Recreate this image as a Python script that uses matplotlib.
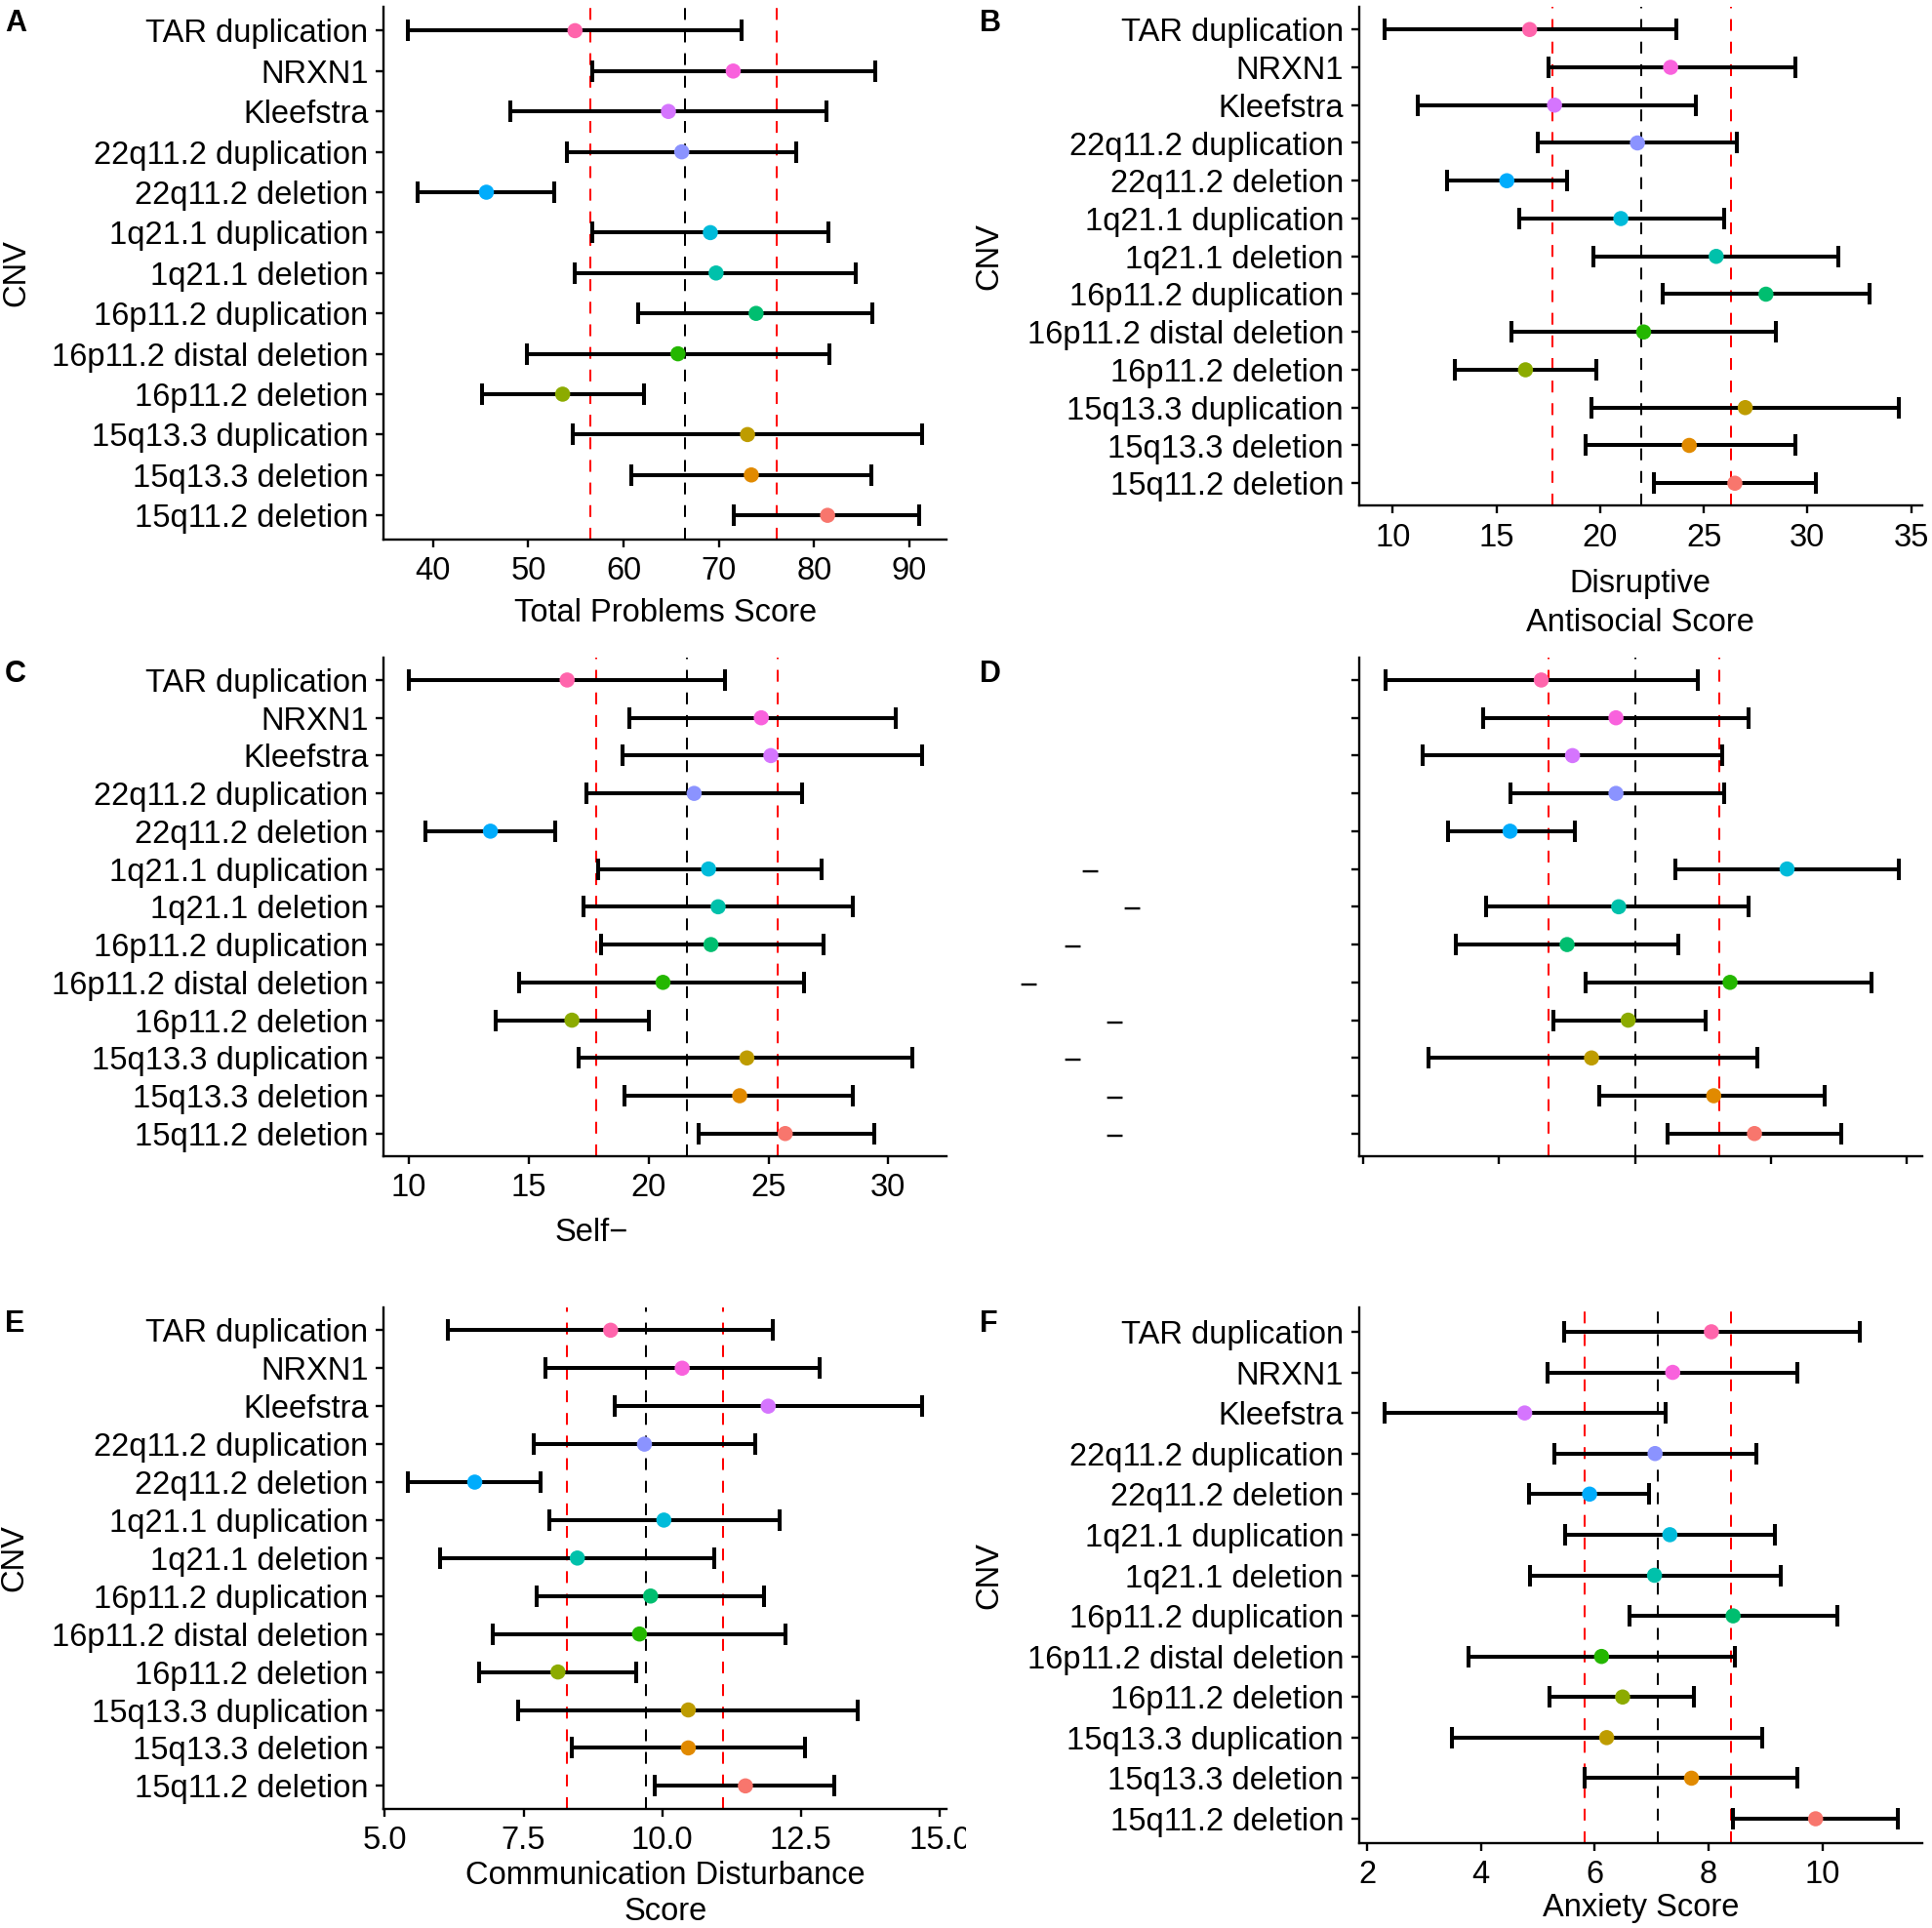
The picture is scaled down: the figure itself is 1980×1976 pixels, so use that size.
import matplotlib
matplotlib.use("Agg")
import matplotlib.pyplot as plt
import matplotlib.transforms as mtransforms
from matplotlib.transforms import Bbox, TransformedBbox
import numpy as np

plt.rcParams['font.family'] = ['Liberation Sans', 'DejaVu Sans']

# ---------------- data ----------------
cnv = ["TAR duplication", "NRXN1", "Kleefstra", "22q11.2 duplication",
       "22q11.2 deletion", "1q21.1 duplication", "1q21.1 deletion",
       "16p11.2 duplication", "16p11.2 distal deletion", "16p11.2 deletion",
       "15q13.3 duplication", "15q13.3 deletion", "15q11.2 deletion"]
cnv_colors = ["#FF65AC", "#F962DD", "#D575FE", "#8B93FF", "#00ACFC", "#00BBDA",
              "#00C1AB", "#00BE70", "#24B700", "#8CAB00", "#BE9C00", "#E18A00",
              "#F8766D"]

# A: Total Problems Score
a_mean = [54.9, 71.5, 64.7, 66.1, 45.6, 69.1, 69.7, 73.9, 65.7, 53.6, 73.0, 73.4, 81.4]
a_low = [37.4, 56.7, 48.1, 54.0, 38.4, 56.7, 54.9, 61.5, 49.9, 45.1, 54.7, 60.8, 71.6]
a_high = [72.4, 86.4, 81.3, 78.1, 52.7, 81.5, 84.4, 86.1, 81.6, 62.1, 91.3, 86.0, 91.0]
a_ref = [66.4, 56.5, 76.1]          # population mean, lower, upper
a_ticks = [40, 50, 60, 70, 80, 90]

# B: Disruptive Antisocial Score
b_mean = [16.6, 23.4, 17.8, 21.8, 15.5, 21.0, 25.6, 28.0, 22.1, 16.4, 27.0, 24.3, 26.5]
b_low = [9.6, 17.5, 11.2, 17.0, 12.6, 16.1, 19.7, 23.0, 15.7, 13.0, 19.6, 19.3, 22.6]
b_high = [23.7, 29.4, 24.6, 26.6, 18.4, 26.0, 31.5, 33.0, 28.5, 19.8, 34.4, 29.4, 30.4]
b_ref = [22.0, 17.7, 26.3]
b_ticks = [10, 15, 20, 25, 30, 35]

# C: Self- score
c_mean = [16.6, 24.7, 25.1, 21.9, 13.4, 22.5, 22.9, 22.6, 20.6, 16.8, 24.1, 23.8, 25.7]
c_low = [10.0, 19.2, 18.9, 17.4, 10.7, 17.9, 17.3, 18.0, 14.6, 13.6, 17.1, 19.0, 22.1]
c_high = [23.2, 30.3, 31.4, 26.4, 16.1, 27.2, 28.5, 27.3, 26.5, 20.0, 31.0, 28.5, 29.4]
c_ref = [21.6, 17.8, 25.4]
c_ticks = [10, 15, 20, 25, 30]

# D: unlabelled panel
d_mean = [16.55, 19.3, 17.7, 19.3, 15.4, 25.6, 19.4, 17.5, 23.5, 19.75, 18.4, 22.9, 24.4]
d_low = [10.8, 14.4, 12.2, 15.4, 13.1, 21.5, 14.5, 13.4, 18.2, 17.0, 12.4, 18.7, 21.2]
d_high = [22.3, 24.2, 23.2, 23.3, 17.8, 29.7, 24.2, 21.6, 28.7, 22.6, 24.5, 27.0, 27.6]
d_ref = [20.0, 16.8, 23.1]
d_ticks = [10, 15, 20, 25, 30]

# E: Communication Disturbance Score
e_mean = [9.07, 10.36, 11.91, 9.68, 6.62, 10.03, 8.47, 9.79, 9.59, 8.12, 10.47, 10.47, 11.5]
e_low = [6.14, 7.89, 9.14, 7.68, 5.42, 7.97, 5.99, 7.74, 6.94, 6.70, 7.41, 8.37, 9.87]
e_high = [11.99, 12.83, 14.69, 11.68, 7.81, 12.11, 10.93, 11.84, 12.23, 9.53, 13.52, 12.57, 13.11]
e_ref = [9.7, 8.29, 11.1]
e_ticks = [5.0, 7.5, 10.0, 12.5, 15.0]

# F: Anxiety Score
f_mean = [8.05, 7.37, 4.77, 7.06, 5.91, 7.32, 7.05, 8.43, 6.12, 6.49, 6.21, 7.70, 9.88]
f_low = [5.46, 5.17, 2.31, 5.30, 4.85, 5.48, 4.87, 6.61, 3.79, 5.21, 3.50, 5.83, 8.43]
f_high = [10.65, 9.56, 7.24, 8.84, 6.96, 9.16, 9.26, 10.27, 8.47, 7.75, 8.94, 9.56, 11.33]
f_ref = [7.11, 5.82, 8.40]
f_ticks = [2, 4, 6, 8, 10]

# ---------------- figure ----------------
W, H = 1980, 1976
fig = plt.figure(figsize=(W / 100, H / 100), dpi=100)
FS = 23.5


def add_ax(l, t, r, b):
    return fig.add_axes([l / W, 1 - b / H, (r - l) / W, (b - t) / H])


def panel(ax, mean, low, high, ref, xlim, ticks, ticklabels=None,
          show_x=True, show_y=True):
    n = len(cnv)
    y = np.arange(n)[::-1]
    dash = (0, (6, 5.5))
    ax.axvline(ref[1], color='#FF0000', lw=1.45, ls=dash, zorder=1)
    ax.axvline(ref[2], color='#FF0000', lw=1.45, ls=dash, zorder=1)
    ax.axvline(ref[0], color='black', lw=1.45, ls=dash, zorder=1)
    mean = np.asarray(mean)
    err = [mean - np.asarray(low), np.asarray(high) - mean]
    ax.errorbar(mean, y, xerr=err, fmt='none', ecolor='black', elinewidth=2.9,
                capsize=7.8, capthick=2.9, zorder=2)
    ax.scatter(mean, y, c=cnv_colors, s=125, zorder=3, linewidths=0)
    ax.set_xlim(*xlim)
    ax.set_ylim(-0.6, n - 0.4)
    ax.set_yticks(y)
    ax.set_yticklabels(cnv if show_y else [])
    ax.set_xticks(ticks)
    if show_x:
        ax.set_xticklabels(ticklabels if ticklabels else [f"{t:g}" for t in ticks])
    else:
        ax.set_xticklabels([])
    for s in ['top', 'right']:
        ax.spines[s].set_visible(False)
    for s in ['left', 'bottom']:
        ax.spines[s].set_linewidth(1.7)
    ax.tick_params(axis='both', length=5.8, width=1.7, color='black',
                   labelcolor='black', labelsize=FS)
    ax.tick_params(axis='y', pad=5.5)
    ax.tick_params(axis='x', pad=6.5)


axA = add_ax(393.3, 6.6, 970.3, 553)
panel(axA, a_mean, a_low, a_high, a_ref, (34.83, 93.91), a_ticks)
axB = add_ax(1392.8, 7, 1969.8, 518.5)
panel(axB, b_mean, b_low, b_high, b_ref, (8.37, 35.53), b_ticks)
axC = add_ax(393.3, 673.7, 970.3, 1185)
panel(axC, c_mean, c_low, c_high, c_ref, (8.95, 32.44), c_ticks)
axD = add_ax(1392.8, 673.7, 1969.8, 1185)
panel(axD, d_mean, d_low, d_high, d_ref, (9.84, 30.57), d_ticks,
      show_x=False, show_y=False)
axE = add_ax(393.3, 1340, 970.3, 1853.7)
panel(axE, e_mean, e_low, e_high, e_ref, (4.98, 15.13), e_ticks,
      ticklabels=[f"{t:.1f}" for t in e_ticks])
axF = add_ax(1392.8, 1340, 1969.8, 1889)
panel(axF, f_mean, f_low, f_high, f_ref, (1.86, 11.75), f_ticks)

# clip panel E's tick labels at its cell border
clip = TransformedBbox(Bbox([[0, 0], [990 / W, 1]]), fig.transFigure)
for lbl in axE.get_xticklabels():
    lbl.set_clip_box(clip)
    lbl.set_clip_on(True)


# axis titles (top of text given in pixels)
def xtitle(ax, text, xfrac, top_px, spacing=1.37):
    ax.set_xlabel(text, fontsize=FS, linespacing=spacing)
    bb = ax.get_position()
    bottom_px = (1 - bb.y0) * H
    height_px = bb.height * H
    ax.xaxis.set_label_coords(xfrac, (bottom_px - top_px) / height_px)


xtitle(axA, "Total Problems Score", 0.5, 613)
xtitle(axB, "Disruptive\nAntisocial Score", 0.5, 583)
xtitle(axC, "Self\u2212", 0.3686, 1248)
xtitle(axE, "Communication Disturbance\nScore", 0.5, 1907, spacing=1.23)
xtitle(axF, "Anxiety Score", 0.5, 1940)

for ax, right_px, left_px in [(axA, 32, 393.3), (axB, 1029, 1392.8),
                              (axE, 30, 393.3), (axF, 1029, 1392.8)]:
    ax.set_ylabel("CNV", fontsize=FS)
    ax.yaxis.set_label_coords((right_px - left_px) / 577.0, 0.5)

# panel letters
for letter, xp, yp in [("A", 5, 32), ("B", 1004, 32), ("C", 5, 699),
                       ("D", 1004, 699), ("E", 5, 1365), ("F", 1004, 1365)]:
    fig.text(xp / W, 1 - yp / H, letter, fontsize=22, fontweight='bold',
             ha='left', va='baseline')

# stray minus glyphs left of panel D
dash_rows = cnv[5:]
dash_x = [1117, 1160, 1099, 1054, 1141.5, 1099, 1141.5, 1141.5]
trans = mtransforms.blended_transform_factory(fig.transFigure, axD.transData)
n = len(cnv)
for name, xp in zip(dash_rows, dash_x):
    yv = n - 1 - cnv.index(name)
    axD.text(xp / W, yv - 0.11, "\u2212", transform=trans, ha='center',
             va='center', fontsize=FS, clip_on=False)

fig.savefig("out.png", dpi=100)
